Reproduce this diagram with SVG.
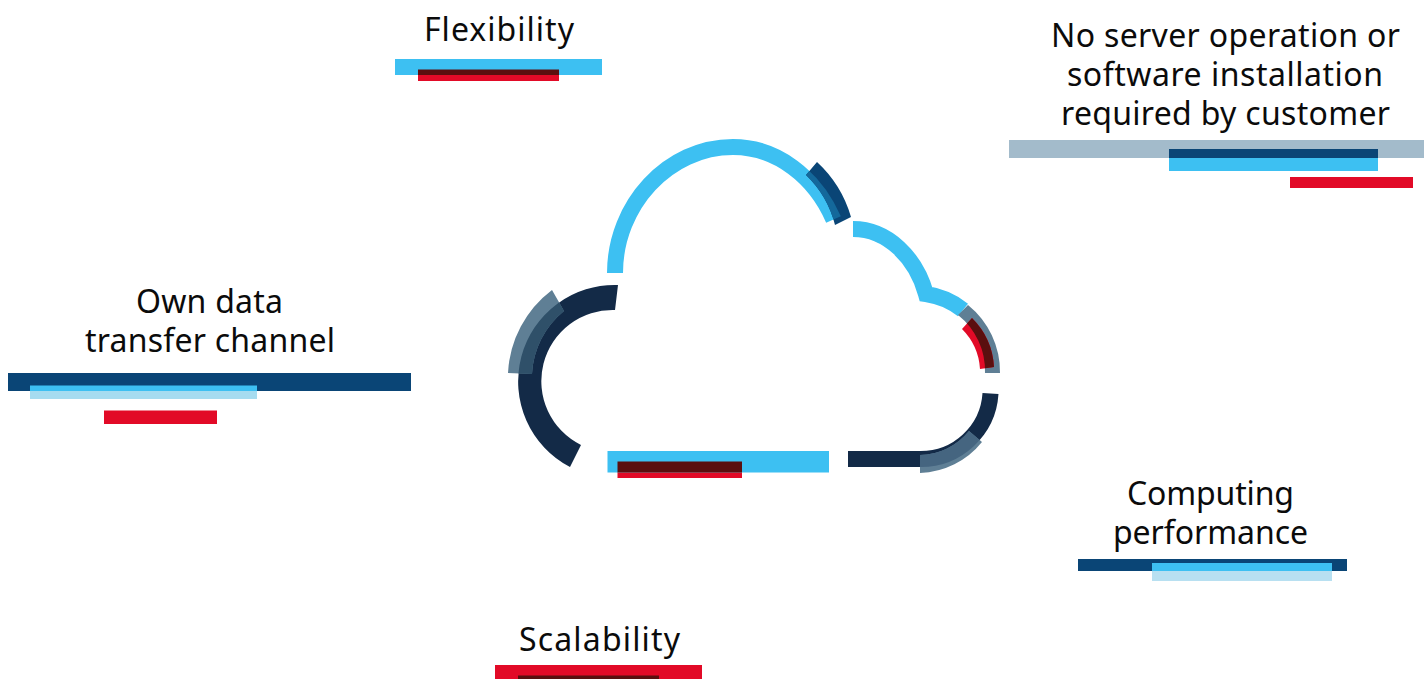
<svg xmlns="http://www.w3.org/2000/svg" width="1424" height="679" viewBox="0 0 1424 679">
<style>
text{font-family:"Noto Sans","Open Sans",sans-serif;font-size:32px;fill:#0b0b0b;text-anchor:middle}
.blue{fill:#3dc0f2}.navy{fill:#132a47}.dark{fill:#0a4576}.grey{fill:#5f7f95}.lgrey{fill:#a3bbcb}.red{fill:#e20a27}.dred{fill:#5a0f0f}.pale{fill:#b8e0f1}
.sb{fill:none;stroke:#3dc0f2;stroke-width:16;stroke-linejoin:miter;stroke-miterlimit:8}
.sn{fill:none;stroke:#132a47;stroke-width:16}
</style>
<defs>
<path id="topLeft" d="M615,273C615,205 668,147 733,147C777,147 815,177 833.500,219.500"/>
<path id="botRight" d="M848,459L920,459A70,70 0 0 0 990.500,393.500"/>
<path id="leftNavy" d="M618,285A96.500,96.500 0 0 0 570,467L581,445A71.200,71.200 0 0 1 615,310Z"/>
<path id="darkTop" d="M817,162A120,120 0 0 1 851,217L835,225A105,105 0 0 0 806,175Z"/>
<path id="greyRight" d="M968,305A86,86 0 0 1 1000,373L985,373A71,71 0 0 0 958,315Z"/>
<path id="redRight" d="M972,318A75,75 0 0 1 994,367L980,369A62,62 0 0 0 962,329Z"/>
<path id="greyLeft" d="M552,290A111,111 0 0 0 508,373L532,374A87,87 0 0 1 564,311Z"/>
<path id="greyBot" d="M920,455A65,65 0 0 0 969,431L982,442A83,83 0 0 1 920,473Z"/>
<clipPath id="cDarkTop"><use href="#darkTop"/></clipPath>
<clipPath id="cGreyRight"><use href="#greyRight"/></clipPath>
<clipPath id="cGreyLeft"><use href="#greyLeft"/></clipPath>
<clipPath id="cGreyBot"><use href="#greyBot"/></clipPath>
</defs>
<g id="cloud">
<use href="#topLeft" class="sb"/>
<path class="sb" d="M853,229C888,229 916,258 926,294C940,296 953,302 963,310"/>
<use href="#darkTop" class="dark"/>
<g clip-path="url(#cDarkTop)"><use href="#topLeft" style="fill:none;stroke:#14689b;stroke-width:16"/></g>
<use href="#greyRight" class="grey"/>
<use href="#redRight" class="red"/>
<g clip-path="url(#cGreyRight)"><use href="#redRight" class="dred"/></g>
<use href="#botRight" class="sn"/>
<use href="#greyBot" class="grey"/>
<g clip-path="url(#cGreyBot)"><use href="#botRight" style="fill:none;stroke:#456580;stroke-width:16"/></g>
<use href="#leftNavy" class="navy"/>
<use href="#greyLeft" class="grey"/>
<g clip-path="url(#cGreyLeft)"><use href="#leftNavy" style="fill:#2f5069"/></g>
<rect class="blue" x="607.500" y="451" width="221.500" height="21.500"/>
<rect class="red" x="617.500" y="472.500" width="124.500" height="5.500"/>
<rect class="dred" x="617.500" y="461.500" width="124.500" height="11"/>
</g>
<g id="flexibility">
<text x="499" y="41" textLength="150">Flexibility</text>
<rect class="blue" x="395" y="59" width="207" height="16"/>
<rect class="dred" x="418" y="69.500" width="141" height="5.500"/>
<rect class="red" x="418" y="75" width="141" height="6"/>
</g>
<g id="no-server">
<text x="1225.500" y="46.500" textLength="349">No server operation or</text>
<text x="1225" y="85.500" textLength="316">software installation</text>
<text x="1225.500" y="124.500" textLength="329">required by customer</text>
<rect class="lgrey" x="1009" y="140" width="415" height="18"/>
<rect class="dark" x="1169" y="149" width="209" height="9"/>
<rect class="blue" x="1169" y="158" width="209" height="13"/>
<rect class="red" x="1290" y="177" width="123" height="11"/>
</g>
<g id="own-data">
<text x="209.500" y="313" textLength="147">Own data</text>
<text x="210" y="352" textLength="250">transfer channel</text>
<rect class="dark" x="8" y="373" width="403" height="18"/>
<rect class="blue" x="30" y="385.500" width="227" height="5.500"/>
<rect fill="#a6dcf0" x="30" y="391" width="227" height="8"/>
<rect class="red" x="104" y="410.500" width="113" height="13.500"/>
</g>
<g id="computing">
<text x="1210.500" y="505" textLength="167">Computing</text>
<text x="1210.500" y="544" textLength="195">performance</text>
<rect class="dark" x="1078" y="559" width="269" height="12"/>
<rect class="blue" x="1152" y="563" width="180" height="8"/>
<rect class="pale" x="1152" y="571" width="180" height="10"/>
</g>
<g id="scalability">
<text x="599.500" y="650.500" textLength="161">Scalability</text>
<rect class="red" x="495" y="665" width="207" height="14"/>
<rect class="dred" x="518" y="675.500" width="141" height="3.500"/>
</g>
</svg>
